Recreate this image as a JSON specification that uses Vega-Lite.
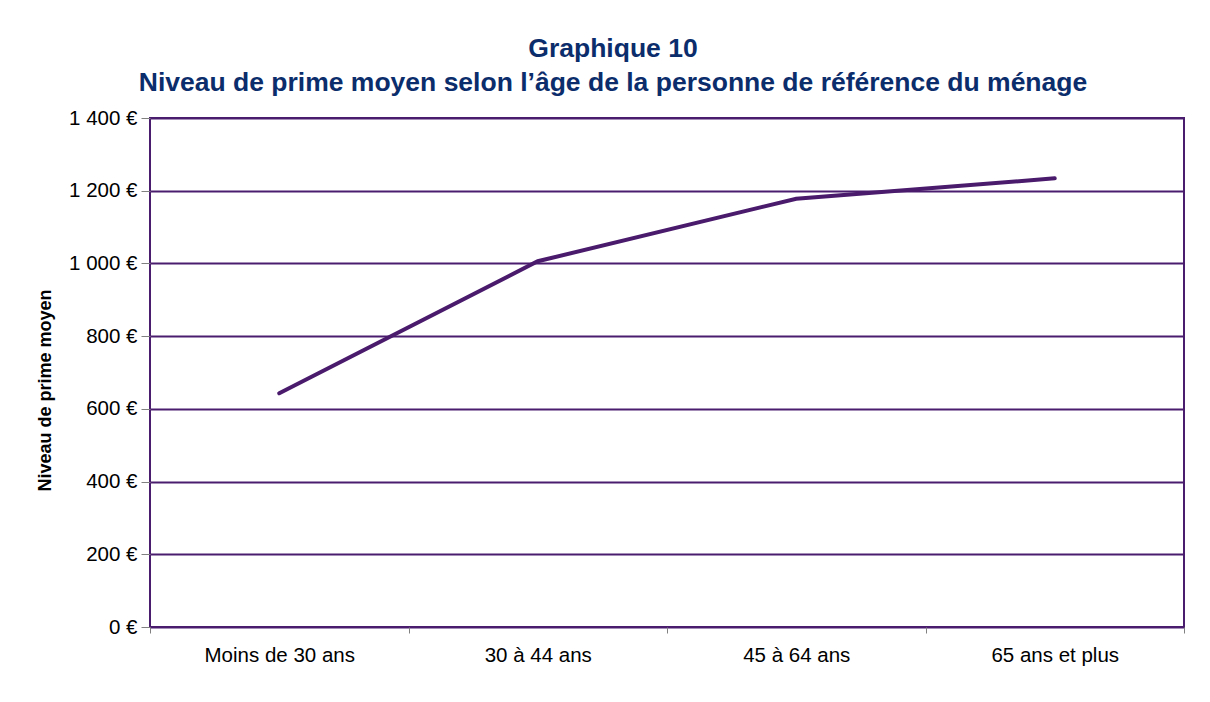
{
  "$schema": "https://vega.github.io/schema/vega-lite/v6.json",
  "width": 1034,
  "height": 509,
  "autosize": {"type": "none"},
  "padding": {"left": 150, "top": 118, "right": 26, "bottom": 75},
  "background": "white",
  "title": {
    "text": ["Graphique 10", "Niveau de prime moyen selon l’âge de la personne de référence du ménage"],
    "font": "Liberation Sans",
    "fontSize": 26.5,
    "fontWeight": "bold",
    "color": "#0b2d6b",
    "anchor": "middle",
    "dx": -54,
    "lineHeight": 34,
    "offset": 12
  },
  "data": {
    "values": [
      {"age": "Moins de 30 ans", "prime": 643},
      {"age": "30 à 44 ans", "prime": 1006},
      {"age": "45 à 64 ans", "prime": 1178},
      {"age": "65 ans et plus", "prime": 1234}
    ]
  },
  "mark": {"type": "line", "color": "#4a1a6c", "strokeWidth": 4, "strokeCap": "round"},
  "encoding": {
    "x": {
      "field": "age",
      "type": "nominal",
      "sort": null,
      "scale": {"paddingInner": 0, "paddingOuter": 0},
      "axis": {
        "title": null,
        "labelAngle": 0,
        "labelFont": "Liberation Sans",
        "labelFontSize": 20.5,
        "labelColor": "black",
        "labelPadding": 12,
        "tickBand": "extent",
        "tickColor": "#808080",
        "tickSize": 6,
        "tickWidth": 1,
        "domain": false,
        "grid": false
      }
    },
    "y": {
      "field": "prime",
      "type": "quantitative",
      "scale": {"domain": [0, 1400], "nice": false},
      "axis": {
        "title": "Niveau de prime moyen",
        "titleFont": "Liberation Sans",
        "titleFontSize": 18,
        "titleFontWeight": "bold",
        "titleColor": "black",
        "titlePadding": 14,
        "titleY": 272,
        "values": [0, 200, 400, 600, 800, 1000, 1200, 1400],
        "labelExpr": "replace(format(datum.value, ',d'), ',', ' ') + ' €'",
        "labelFont": "Liberation Sans",
        "labelFontSize": 20.5,
        "labelColor": "black",
        "labelPadding": 4,
        "tickColor": "#808080",
        "tickSize": 9,
        "tickWidth": 1,
        "domain": false,
        "grid": true,
        "gridColor": "#4b1d6e",
        "gridWidth": 2,
        "gridOpacity": 1
      }
    }
  },
  "config": {
    "view": {"stroke": "#4b1d6e", "strokeWidth": 2}
  }
}
